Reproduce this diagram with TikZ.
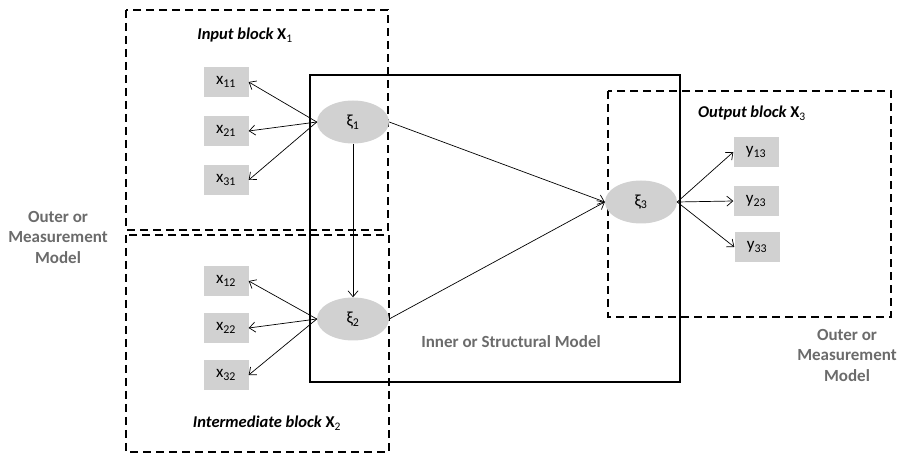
\documentclass[tikz,border=0pt]{standalone}
\usepackage{fontspec}
\setmainfont{Carlito}
\usetikzlibrary{shapes.geometric,arrows.meta}

\begin{document}
\begin{tikzpicture}[x=1pt,y=-1pt,
  indic/.style={fill=black!18, minimum width=45pt, minimum height=30pt, inner sep=0pt, font=\fontsize{17}{19}\selectfont},
  latent/.style={ellipse, fill=black!18, minimum width=72pt, minimum height=43pt, inner sep=0pt, font=\fontsize{17}{19}\selectfont},
  blockbox/.style={dash pattern=on 8pt off 5pt, line width=1.9pt},
  blocktitle/.style={font=\fontsize{16.5}{19}\selectfont\bfseries\itshape},
  modeltext/.style={text=black!58, align=center, font=\fontsize{17}{20.5}\selectfont\bfseries},
  path/.style={-{Straight Barb[length=6pt,width=10pt]}, line width=0.7pt}]
\useasboundingbox (0,0) rectangle (898,454);

% blocks and inner model
\draw[blockbox] (126,10) rectangle (388,230);
\draw[blockbox] (126,235) rectangle (389,452);
\draw[blockbox] (608,91) rectangle (891,317);
\draw[line width=2.2pt] (310,75) rectangle (680,382);

% latent variables
\node[latent] (xi1) at (353,122) {ξ\textsubscript{1}};
\node[latent] (xi2) at (353,319) {ξ\textsubscript{2}};
\node[latent] (xi3) at (641,202) {ξ\textsubscript{3}};

% manifest variables
\node[indic] (x11) at (226,82) {x\textsubscript{11}};
\node[indic] (x21) at (226,131) {x\textsubscript{21}};
\node[indic] (x31) at (226,180) {x\textsubscript{31}};
\node[indic] (x12) at (226,281) {x\textsubscript{12}};
\node[indic] (x22) at (226,328) {x\textsubscript{22}};
\node[indic] (x32) at (226,375) {x\textsubscript{32}};
\node[indic] (y13) at (756,152) {y\textsubscript{13}};
\node[indic] (y23) at (756,201) {y\textsubscript{23}};
\node[indic] (y33) at (757,247) {y\textsubscript{33}};

% outer model
\foreach \m in {x11,x21,x31} \draw[path] (xi1.west) -- (\m.east);
\foreach \m in {x12,x22,x32} \draw[path] (xi2.west) -- (\m.east);
\foreach \m in {y13,y23,y33} \draw[path] (xi3.east) -- (\m.west);

% inner model
\draw[path] (xi1.south) -- (xi2.north);
\draw[path] (xi1.east) -- (xi3.west);
\draw[path] (xi2.east) -- (xi3.west);

% labels
\node[blocktitle] (tin) at (245,35) {Input block \upshape X\textsubscript{\mdseries 1}};
\node[blocktitle] (tmid) at (267,423) {Intermediate block \upshape X\textsubscript{\mdseries 2}};
\node[blocktitle] (tout) at (752,113) {Output block \upshape X\textsubscript{\mdseries 3}};
\node[modeltext] (outl) at (58,237) {Outer or\\Measurement\\Model};
\node[modeltext] (outr) at (847,355) {Outer or\\Measurement\\Model};
\node[modeltext] (inner) at (511,342) {Inner or Structural Model};
\end{tikzpicture}
\end{document}
